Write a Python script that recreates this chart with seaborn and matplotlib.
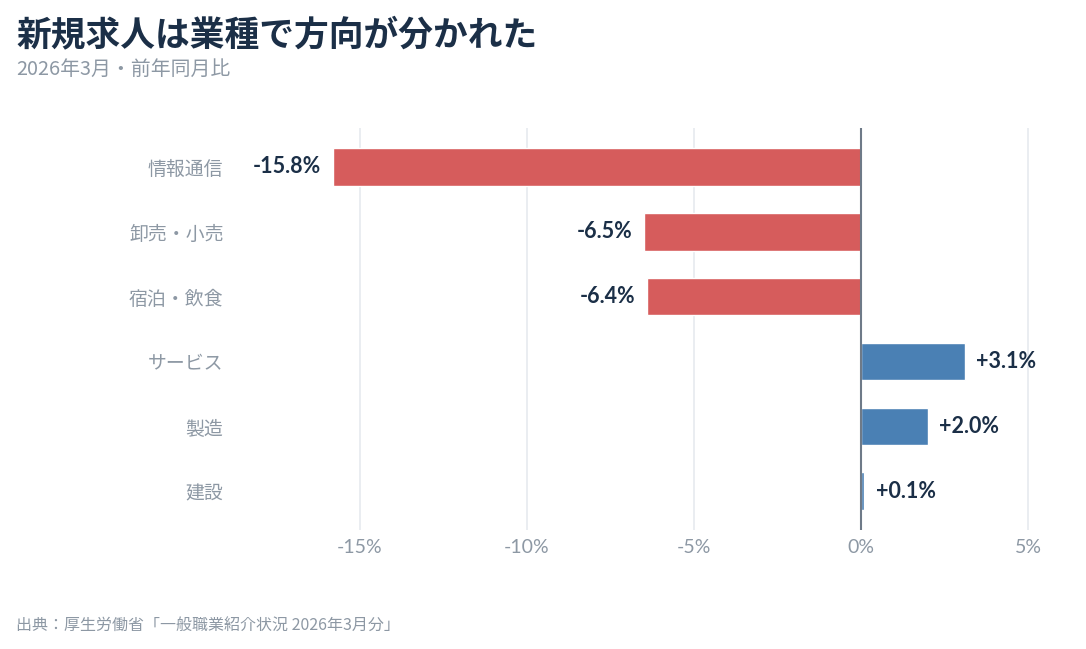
import numpy as np
import pandas as pd
import seaborn as sns
import matplotlib.pyplot as plt

# data
industries = ['情報通信', '卸売・小売', '宿泊・飲食', 'サービス', '製造', '建設']
yoy_change = [-15.8, -6.5, -6.4, 3.1, 2.0, 0.1]
x_ticks = [-15, -10, -5, 0, 5]

title_txt = '新規求人は業種で方向が分かれた'
subtitle_txt = '2026年3月・前年同月比'
source_txt = '出典：厚生労働省「一般職業紹介状況 2026年3月分」'

RED = '#d65c5c'
BLUE = '#4a80b4'
NAVY = '#1b2f47'
GRAY = '#8d98a4'
CJK = ['Noto Sans CJK JP', 'DejaVu Sans']

df = pd.DataFrame({'industry': industries, 'change': yoy_change})
df['sign'] = np.where(df['change'] < 0, 'neg', 'pos')

sns.set_theme(style='white')
plt.rcParams['font.family'] = ['Lato', 'Noto Sans CJK JP', 'DejaVu Sans']

fig = plt.figure(figsize=(10.86, 6.49), dpi=100)
ax = fig.add_axes([0.216, 0.183, 0.746, 0.620])

sns.barplot(data=df, x='change', y='industry', hue='sign', orient='h',
            palette={'neg': RED, 'pos': BLUE}, dodge=False, width=0.58,
            legend=False, ax=ax, saturation=1)

ax.set_xlim(-18.75, 5.5)
ax.set_ylim(5.6, -0.6)
ax.set_xticks(x_ticks)
ax.set_xticklabels([f'{t}%' for t in x_ticks], color=GRAY, fontsize=14)
ax.tick_params(axis='y', labelsize=13.6, labelcolor=GRAY, length=0, pad=8)
ax.tick_params(axis='x', length=0, pad=6)
for lab in ax.get_yticklabels():
    lab.set_family(CJK)
ax.set_xlabel('')
ax.set_ylabel('')
ax.grid(axis='x', color='#e6eaef', linewidth=1.2)
ax.set_axisbelow(True)
ax.axvline(0, color='#6e7a88', linewidth=1.5, zorder=3)
for s in ax.spines.values():
    s.set_visible(False)

# value labels next to each bar
for i, v in enumerate(yoy_change):
    if v < 0:
        ax.text(v - 0.35, i, f'{v:.1f}%', ha='right', va='center',
                fontsize=15.5, fontweight='bold', color=NAVY)
    else:
        ax.text(v + 0.35, i, f'+{v:.1f}%', ha='left', va='center',
                fontsize=15.5, fontweight='bold', color=NAVY)

fig.text(0.015, 0.947, title_txt, fontsize=25, fontweight='bold', color=NAVY,
         family=CJK, va='center')
fig.text(0.015, 0.893, subtitle_txt, fontsize=14.3, color=GRAY,
         family=CJK, va='center')
fig.text(0.015, 0.035, source_txt, fontsize=11.5, color=GRAY,
         family=CJK, va='center')

fig.savefig('out.png', dpi=100, facecolor='white')
